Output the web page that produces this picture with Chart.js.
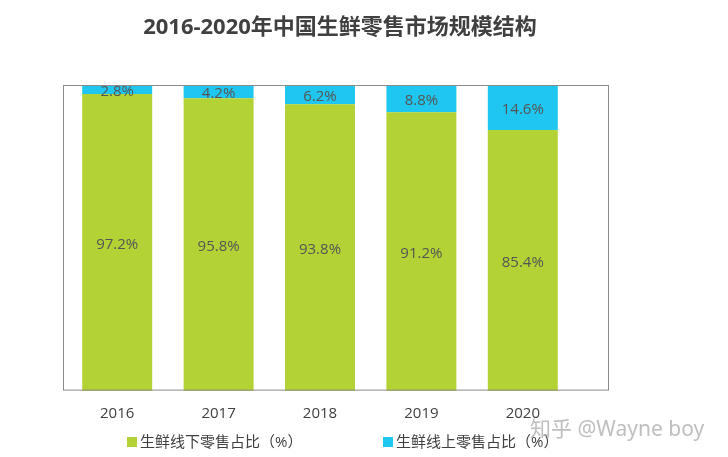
<!DOCTYPE html>
<html>
<head>
<meta charset="utf-8">
<script src="https://cdn.jsdelivr.net/npm/chart.js@4"></script>
<style>
  body { margin: 0; background: #fff; }
  #wrap { position: relative; width: 728px; height: 457px; overflow: hidden; }
  #box { position: absolute; left: 0; top: 0; width: 728px; height: 457px; }
  .legend { position: absolute; top: 430px; font: 15px "Open Sans", "Noto Sans CJK SC", sans-serif; color: #404040; white-space: nowrap; }
  .legend i { display: inline-block; width: 10px; height: 10px; margin-right: 3px; vertical-align: 0px; }
  #mark { position: absolute; left: 530px; top: 412px; font: 21px "Noto Sans", "Noto Sans CJK SC", sans-serif; color: rgba(170,170,170,0.75); white-space: nowrap; }
</style>
</head>
<body>
<div id="wrap">
  <div id="box"><canvas id="myChart"></canvas></div>
  <div id="legend"></div>
  <div id="mark">知乎 @Wayne boy</div>
</div>
<script>
// data
const years = ['2016', '2017', '2018', '2019', '2020'];
const offline = [97.2, 95.8, 93.8, 91.2, 85.4];
const online = [2.8, 4.2, 6.2, 8.8, 14.6];
const seriesNames = ['生鲜线下零售占比（%）', '生鲜线上零售占比（%）'];
const colors = ['#b2d235', '#1fc6ef'];
const legendLeft = [127, 383];

const ctx = document.getElementById('myChart').getContext('2d');

// ramen runt plottytan
const framePlugin = {
  id: 'frame',
  afterDatasetsDraw(chart) {
    const a = chart.chartArea;
    const c = chart.ctx;
    c.save();
    c.strokeStyle = '#8c8c8c';
    c.lineWidth = 1;
    c.strokeRect(Math.round(a.left) - 3.5, Math.round(a.top) + 0.5, a.right - a.left + 38, a.bottom - a.top - 1);
    c.restore();
  }
};

// värdeetiketter mitt i staplarna
const labelPlugin = {
  id: 'barLabels',
  afterDatasetsDraw(chart) {
    const c = chart.ctx;
    c.save();
    c.font = '15px "Open Sans", sans-serif';
    c.fillStyle = '#555555';
    c.textAlign = 'center';
    c.textBaseline = 'middle';
    chart.data.datasets.forEach((ds, i) => {
      chart.getDatasetMeta(i).data.forEach((bar, j) => {
        const p = bar.getProps(['x', 'y', 'base'], true);
        c.fillText(ds.data[j].toFixed(1) + '%', p.x, (p.y + p.base) / 2 + 2);
      });
    });
    c.restore();
  }
};

// osynliga axlar som bara tar plats
const hiddenAxis = (pos, w) => ({
  position: pos,
  stacked: true,
  min: 0,
  max: 100,
  grid: { display: false },
  border: { display: false },
  ticks: { display: false },
  afterFit(scale) { scale.width = w; }
});

const data = {
  labels: years,
  datasets: [
    { label: seriesNames[0], data: offline, backgroundColor: colors[0] },
    { label: seriesNames[1], data: online, backgroundColor: colors[1] }
  ]
};

const config = {
  type: 'bar',
  data: data,
  options: {
    responsive: true,
    maintainAspectRatio: false,
    animation: false,
    categoryPercentage: 1,
    barPercentage: 0.69,
    layout: { padding: { left: 0, right: 48, top: 1, bottom: 28 } },
    scales: {
      x: {
        stacked: true,
        grid: { display: false },
        border: { display: false },
        ticks: { color: '#404040', padding: 6, font: { size: 15, family: '"Open Sans", sans-serif' } }
      },
      y: hiddenAxis('left', 66.5),
      y2: hiddenAxis('right', 106.5)
    },
    plugins: {
      legend: { display: false },
      tooltip: { enabled: false },
      title: {
        display: true,
        text: '2016-2020年中国生鲜零售市场规模结构',
        color: '#404040',
        font: { size: 22, weight: 'bold', family: '"Open Sans", "Noto Sans CJK SC", sans-serif' },
        padding: { top: 14, bottom: 44 }
      }
    }
  },
  plugins: [framePlugin, labelPlugin]
};

const myChart = new Chart(ctx, config);

// legend i html, byggd från datasets
const legendEl = document.getElementById('legend');
myChart.data.datasets.forEach((ds, i) => {
  const item = document.createElement('div');
  item.className = 'legend';
  item.style.left = legendLeft[i] + 'px';
  item.innerHTML = '<i style="background:' + ds.backgroundColor + '"></i>' + ds.label;
  legendEl.appendChild(item);
});
</script>
</body>
</html>
